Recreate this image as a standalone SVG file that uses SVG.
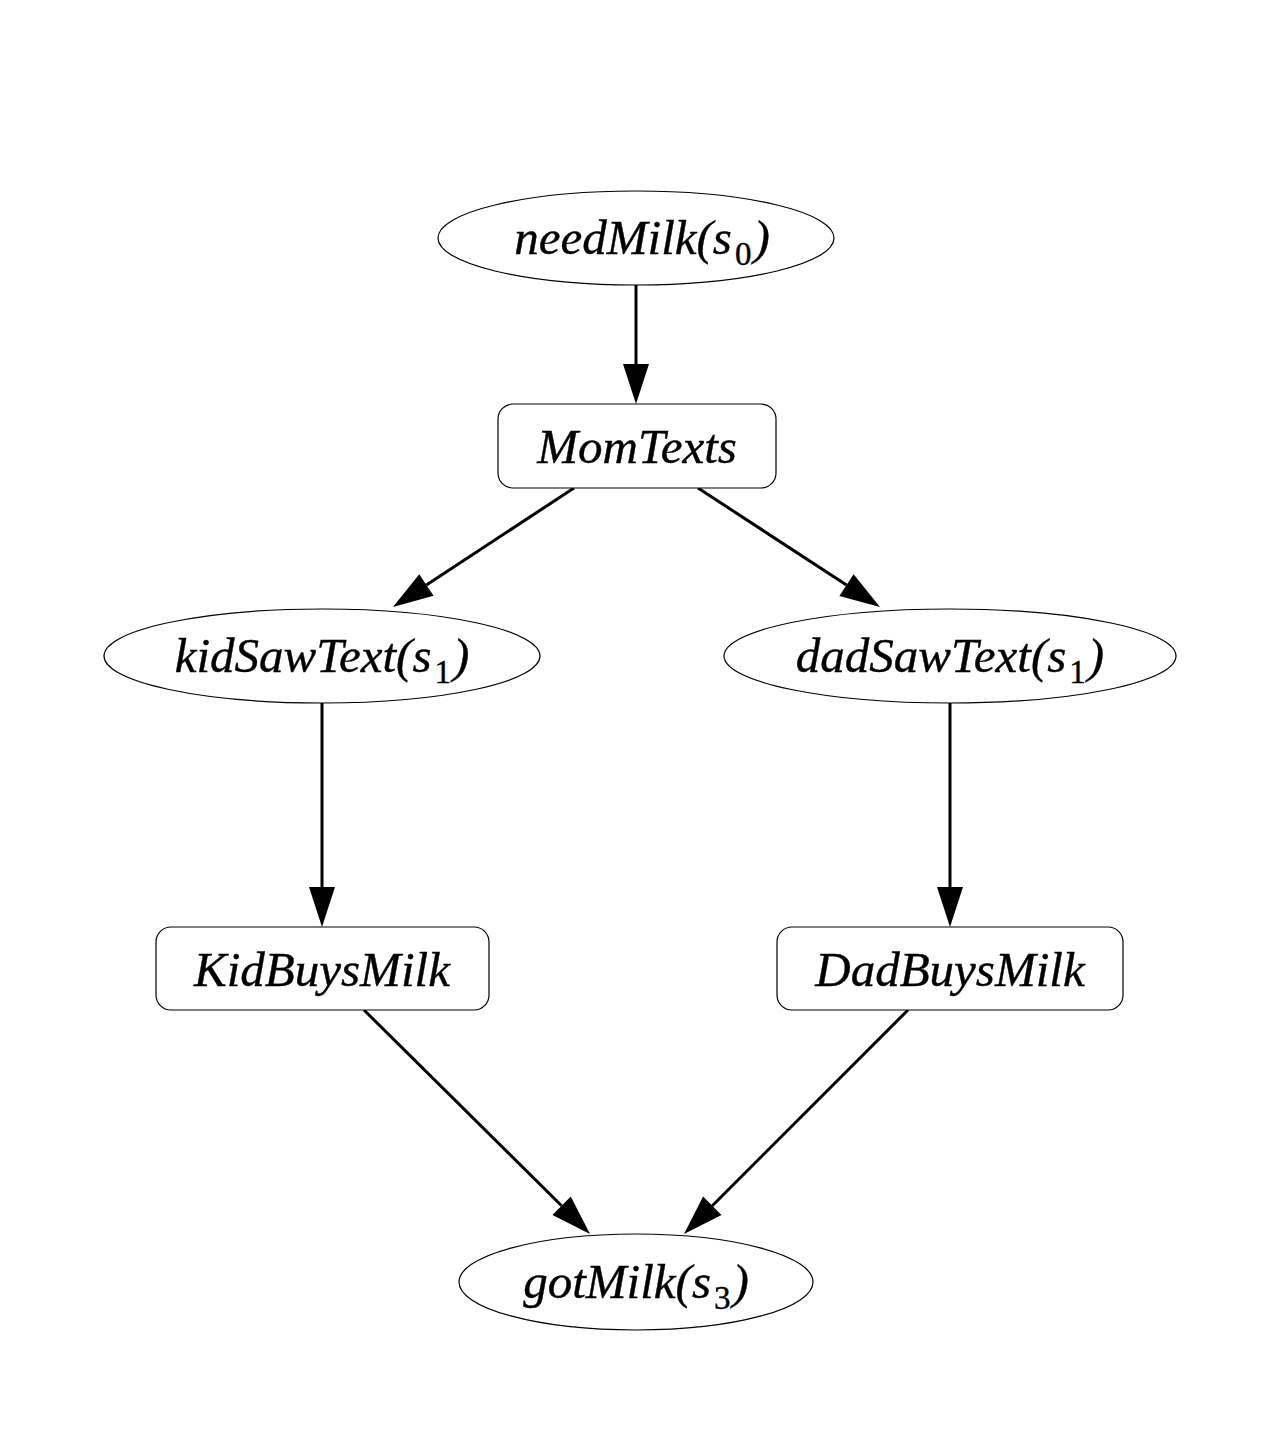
<svg xmlns="http://www.w3.org/2000/svg" width="1280" height="1450" viewBox="0 0 1280 1450">
<style>
.shape{fill:#fff;stroke:#000;stroke-width:1.2}
.lbl{font-family:"Liberation Serif","Times New Roman",serif;font-style:italic;font-size:49px;fill:#000;stroke:#000;stroke-width:0.4;text-anchor:middle}
.sub{font-style:normal;font-size:33px}
.edge{stroke:#000;stroke-width:3;fill:none}
</style>
<defs>
<marker id="ah" markerUnits="userSpaceOnUse" markerWidth="40" markerHeight="26" refX="0" refY="13" orient="auto" overflow="visible">
<path d="M0,0 L40,13 L0,26 z" fill="#000"/>
</marker>
</defs>
<rect width="1280" height="1450" fill="#fff"/>
<g id="connectors">
<line class="edge" x1="636" y1="285" x2="636" y2="364" marker-end="url(#ah)"/>
<line class="edge" x1="574" y1="488" x2="426.4" y2="585" marker-end="url(#ah)"/>
<line class="edge" x1="698" y1="488" x2="846.5" y2="585.1" marker-end="url(#ah)"/>
<line class="edge" x1="322" y1="703" x2="322" y2="887" marker-end="url(#ah)"/>
<line class="edge" x1="950" y1="703" x2="950" y2="887" marker-end="url(#ah)"/>
<line class="edge" x1="364" y1="1010" x2="561.6" y2="1205.8" marker-end="url(#ah)"/>
<line class="edge" x1="908" y1="1010" x2="712.3" y2="1205.7" marker-end="url(#ah)"/>
</g>
<g id="needMilk">
<ellipse class="shape" cx="636" cy="238" rx="198" ry="47"/>
<text class="lbl" x="642" y="254">needMilk(s<tspan class="sub" dx="3" dy="11">0</tspan><tspan dx="2" dy="-11">)</tspan></text>
</g>
<g id="MomTexts">
<rect class="shape" x="498" y="404" width="278" height="84" rx="15"/>
<text class="lbl" x="637" y="463">MomTexts</text>
</g>
<g id="kidSawText">
<ellipse class="shape" cx="322" cy="656" rx="218" ry="47"/>
<text class="lbl" x="322" y="672">kidSawText(s<tspan class="sub" dx="3" dy="11">1</tspan><tspan dx="2" dy="-11">)</tspan></text>
</g>
<g id="dadSawText">
<ellipse class="shape" cx="950" cy="656" rx="226" ry="47"/>
<text class="lbl" x="950" y="672">dadSawText(s<tspan class="sub" dx="3" dy="11">1</tspan><tspan dx="2" dy="-11">)</tspan></text>
</g>
<g id="KidBuysMilk">
<rect class="shape" x="156" y="927" width="333" height="83" rx="15"/>
<text class="lbl" x="322" y="986">KidBuysMilk</text>
</g>
<g id="DadBuysMilk">
<rect class="shape" x="777" y="927" width="346" height="83" rx="15"/>
<text class="lbl" x="950" y="986">DadBuysMilk</text>
</g>
<g id="gotMilk">
<ellipse class="shape" cx="636" cy="1282" rx="177" ry="48"/>
<text class="lbl" x="636" y="1298">gotMilk(s<tspan class="sub" dx="3" dy="11">3</tspan><tspan dx="2" dy="-11">)</tspan></text>
</g>
</svg>
